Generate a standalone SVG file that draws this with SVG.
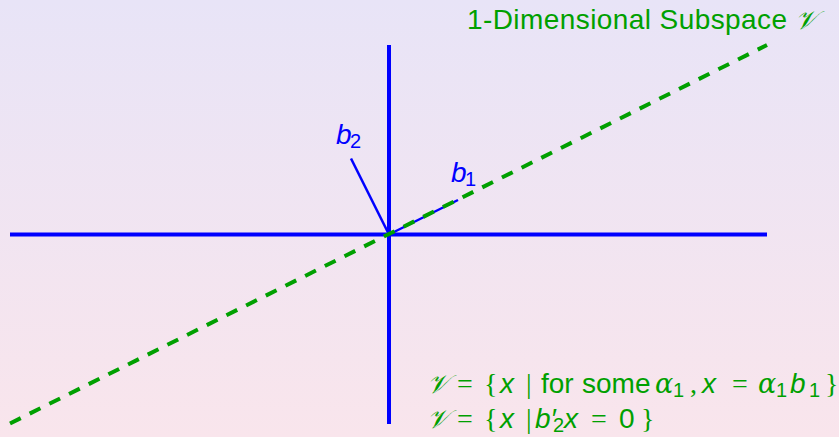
<svg xmlns="http://www.w3.org/2000/svg" width="839" height="437" viewBox="0 0 839 437">
<style>
.ax{stroke:#0000ff;stroke-width:4;fill:none}
.vec{stroke:#0000ff;stroke-width:2.5;fill:none}
.sub{stroke:#00a000;stroke-width:4;stroke-dasharray:12 10;fill:none}
.lbl{font-family:"Liberation Sans",Arial,sans-serif;font-size:28px;fill:#0000ff}
.g{font-family:"Liberation Sans",Arial,sans-serif;font-size:28px;fill:#00a000}
.it{font-style:italic}
.sr{font-family:"Liberation Serif","DejaVu Serif",serif}
.al{font-family:"DejaVu Serif","Liberation Serif",serif;font-style:italic;font-size:27px}
.sc{font-family:"DejaVu Serif","Liberation Serif",serif;font-style:italic;font-size:26px}
.sb{font-size:20px}
</style>
<defs>
<linearGradient id="bg" x1="0" y1="0" x2="0" y2="1">
<stop offset="0" stop-color="#e8e4f7"/>
<stop offset="1" stop-color="#f9e5ec"/>
</linearGradient>
</defs>
<rect width="839" height="437" fill="url(#bg)"/>
<g id="connectors">
<g id="axes">
<line class="ax" x1="10" y1="234.5" x2="767" y2="234.5"/>
<line class="ax" x1="389" y1="45" x2="389" y2="424"/>
</g>
<g id="b2-vector"><line class="vec" x1="389" y1="234.5" x2="351" y2="158.5"/></g>
<g id="b1-vector"><line class="vec" x1="389" y1="234.5" x2="458" y2="200"/></g>
<g id="subspace-line"><line class="sub" x1="10" y1="423.5" x2="767" y2="45"/></g>
</g>
<g id="label-b2"><text class="lbl"><tspan class="it" x="336" y="144">b</tspan><tspan class="sb" x="350" y="148">2</tspan></text></g>
<g id="label-b1"><text class="lbl"><tspan class="it" x="451" y="182">b</tspan><tspan class="sb" x="465" y="186">1</tspan></text></g>
<g id="title"><text class="g" x="467" y="29" font-size="28.5" textLength="320" lengthAdjust="spacing">1-Dimensional Subspace</text><text class="g sc" x="795" y="29">𝒱</text></g>
<g id="eq1"><text class="g">
<tspan class="sc" x="427" y="393">𝒱</tspan>
<tspan class="sr" x="457" y="393">=</tspan>
<tspan class="sr" x="484" y="393">{</tspan>
<tspan class="it" x="500" y="393">x</tspan>
<tspan class="sr" x="526" y="393">|</tspan>
<tspan x="541" y="393">for</tspan>
<tspan x="582" y="393">some</tspan>
<tspan class="al" x="655" y="393">α</tspan>
<tspan class="sb" x="673" y="397">1</tspan>
<tspan class="sr" x="690" y="393">,</tspan>
<tspan class="it" x="702" y="393">x</tspan>
<tspan class="sr" x="732" y="393">=</tspan>
<tspan class="al" x="758" y="393">α</tspan>
<tspan class="sb" x="776" y="397">1</tspan>
<tspan class="it" x="790" y="393">b</tspan>
<tspan class="sb" x="809" y="397">1</tspan>
<tspan class="sr" x="825" y="393">}</tspan>
</text></g>
<g id="eq2"><text class="g">
<tspan class="sc" x="427" y="428">𝒱</tspan>
<tspan class="sr" x="457" y="428">=</tspan>
<tspan class="sr" x="484" y="428">{</tspan>
<tspan class="it" x="500" y="428">x</tspan>
<tspan class="sr" x="526" y="428">|</tspan>
<tspan class="it" x="535" y="428">b′</tspan>
<tspan class="sb" x="553" y="432">2</tspan>
<tspan class="it" x="564" y="428">x</tspan>
<tspan class="sr" x="591" y="428">=</tspan>
<tspan x="619" y="428">0</tspan>
<tspan class="sr" x="641" y="428">}</tspan>
</text></g>
</svg>
